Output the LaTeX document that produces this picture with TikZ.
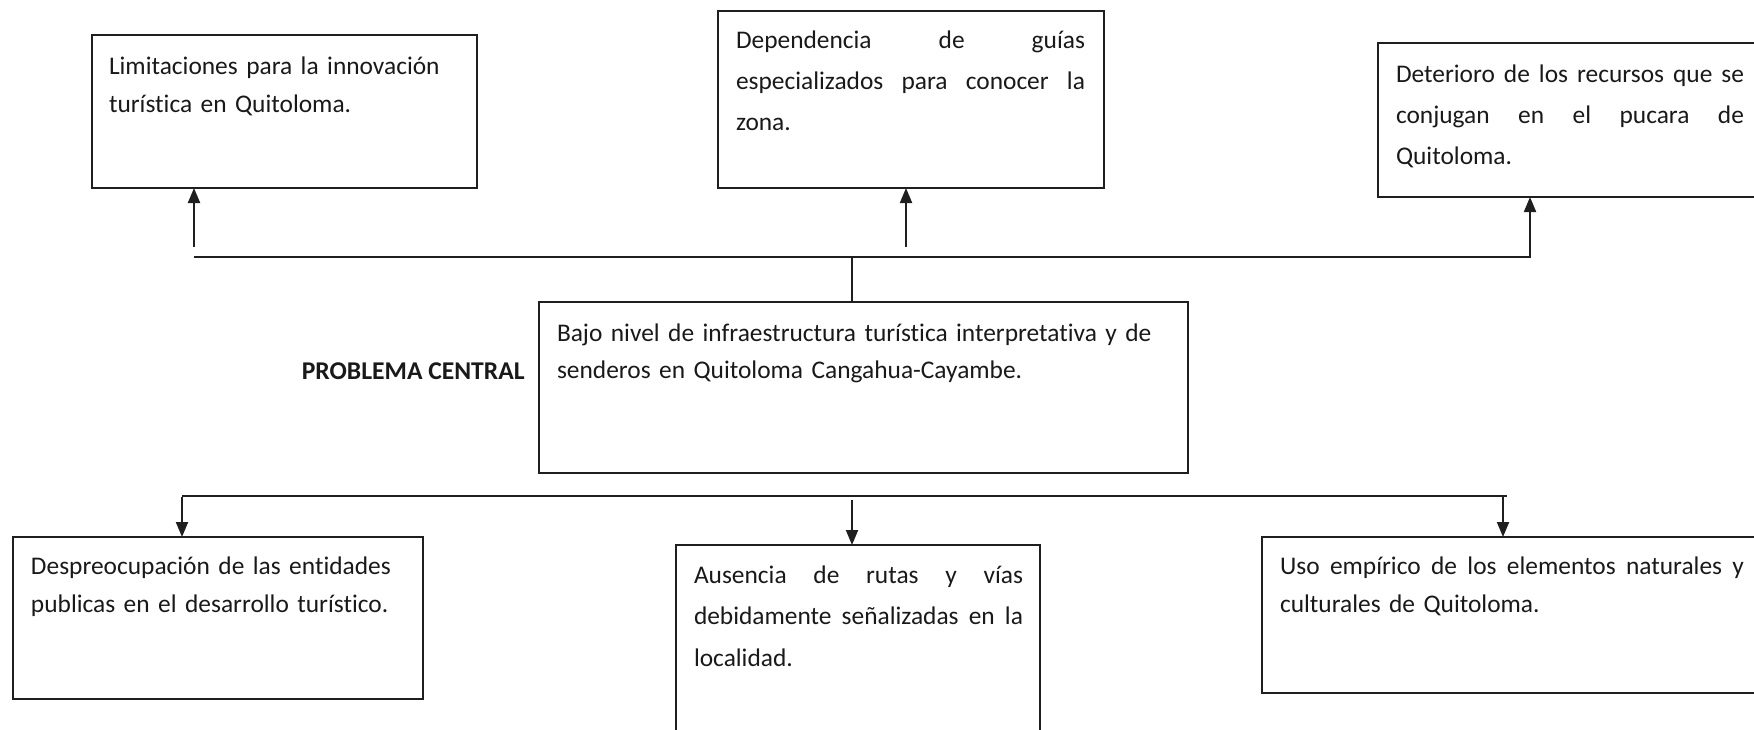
\documentclass[tikz,border=0pt]{standalone}
\usepackage{fontspec}
\setmainfont{Carlito}[Ligatures={NoCommon}]
\usetikzlibrary{arrows.meta}
\tikzset{
  box/.style={draw=black!88, line width=1pt, rectangle, inner sep=0pt, outer sep=0pt, anchor=north west},
  txt/.style={inner sep=0pt, outer sep=0pt, anchor=base west, align=left, text=black!90},
  nrm/.style={font=\fontsize{12.7}{19}\selectfont},
  wide/.style={font=\fontsize{12.7}{20.6}\selectfont},
  conn/.style={draw=black!88, line width=1pt},
  arr/.style={conn, -{Triangle[length=7.5pt,width=6pt]}}
}
\newcommand{\jline}[2]{\leavevmode\hbox to #1{\spaceskip=\fontdimen2\font plus 1fil\relax #2}}
\begin{document}
\begin{tikzpicture}[x=0.5pt, y=-0.5pt]
\path[use as bounding box] (0,0) rectangle (1754,729);
\clip (0,0) rectangle (1754,729);
% boxes
\node[box, minimum width=192.5pt, minimum height=76.5pt] (b1) at (92,35) {};
\node[box, minimum width=193pt, minimum height=88.5pt] (b2) at (718,11) {};
\node[box, minimum width=196pt, minimum height=77pt] (b3) at (1378,43) {};
\node[box, minimum width=324.5pt, minimum height=85.5pt] (cen) at (539,302) {};
\node[box, minimum width=205pt, minimum height=81pt] (b4) at (13,537) {};
\node[box, minimum width=182pt, minimum height=100pt] (b5) at (676,545) {};
\node[box, minimum width=254pt, minimum height=78pt] (b6) at (1262,537) {};
% texts
\node[txt, nrm, text width=180pt] (t1) at (109,74) {Limitaciones para la innovación\\turística en Quitoloma.};
\node[txt, wide, text width=180pt] (t2) at (736,48) {\jline{174.5pt}{Dependencia de guías}\\\jline{174.5pt}{especializados para conocer la}\\zona.};
\node[txt, wide, text width=180pt] (t3) at (1396,82) {\jline{174pt}{Deterioro de los recursos que se}\\\jline{174pt}{conjugan en el pucara de}\\Quitoloma.};
\node[txt, font=\fontsize{12.7}{18.5}\selectfont, text width=320pt] (tc) at (557,341) {Bajo nivel de infraestructura turística interpretativa y de\\senderos en Quitoloma Cangahua-Cayambe.};
\node[inner sep=0pt, anchor=base east, font=\fontsize{12.8}{19}\selectfont\bfseries, text=black!90] (pc) at (525,379) {PROBLEMA CENTRAL};
\node[txt, nrm, text width=200pt] (t4) at (31,574) {Despreocupación de las entidades\\publicas en el desarrollo turístico.};
\node[txt, font=\fontsize{12.7}{20.8}\selectfont, text width=170pt] (t5) at (694,583) {\jline{164.5pt}{Ausencia de rutas y vías}\\\jline{164.5pt}{debidamente señalizadas en la}\\localidad.};
\node[txt, nrm, text width=240pt] (t6) at (1280,574) {\jline{232pt}{Uso empírico de los elementos naturales y}\\culturales de Quitoloma.};
% connector coordinates
\coordinate (hl) at (194,257);
\coordinate (hr) at (1530,257);
\coordinate (a1) at (194,247);
\coordinate (a2) at (906,247);
\coordinate (hv) at (852,257);
\coordinate (ll) at (182,496);
\coordinate (lr) at (1507,496);
\coordinate (a4) at (182,497);
\coordinate (a5) at (852,500);
\coordinate (a6) at (1503,496);
% upper connectors
\draw[arr] (a1) -- (a1 |- b1.south);
\draw[arr] (a2) -- (a2 |- b2.south);
\draw[arr] (hl) -- (hr) -- (hr |- b3.south);
\draw[conn] (hv) -- (hv |- cen.north);
% lower connectors
\draw[conn] (ll) -- (lr);
\draw[arr] (a4) -- (a4 |- b4.north);
\draw[arr] (a5) -- (a5 |- b5.north);
\draw[arr] (a6) -- (a6 |- b6.north);
\end{tikzpicture}
\end{document}
